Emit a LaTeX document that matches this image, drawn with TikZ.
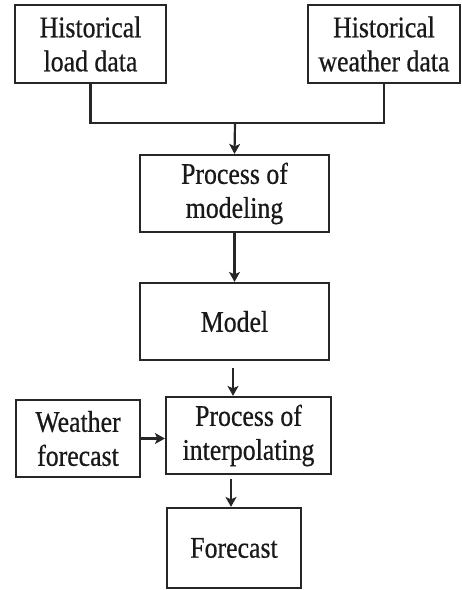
\documentclass[tikz,border=0pt]{standalone}
\usepackage{fontspec}
\setmainfont{Liberation Serif}[FakeStretch=0.86,FakeBold=0.6]
\usetikzlibrary{arrows.meta,calc}
\begin{document}
\begin{tikzpicture}[x=1pt,y=-1pt,
  blockbox/.style={draw=black!85, line width=2.2pt, rectangle, inner sep=0pt,
    align=center, font=\fontsize{30}{34}\selectfont, text=black!90},
  flow/.style={draw=black!85, line width=2.2pt, -{Stealth[length=10pt,width=11pt,inset=2.5pt]}},
  link/.style={draw=black!85, line width=2.2pt}]
\useasboundingbox (0,0) rectangle (462,590);

\node[blockbox, minimum width=151pt, minimum height=78pt] (hload) at (90.5,44) {Historical\\load data};
\node[blockbox, minimum width=152pt, minimum height=78pt] (hweather) at (384,44) {Historical\\weather data};
\node[blockbox, minimum width=189pt, minimum height=77pt] (modeling) at (234.5,193.5) {Process of\\modeling};
\node[blockbox, minimum width=189pt, minimum height=77pt] (model) at (234.5,321.5) {Model};
\node[blockbox, minimum width=165pt, minimum height=77pt] (interp) at (248.5,435.5) {Process of\\interpolating};
\node[blockbox, minimum width=124pt, minimum height=77pt] (wforecast) at (78,438.5) {Weather\\forecast};
\node[blockbox, minimum width=134pt, minimum height=80pt] (forecast) at (234,548) {Forecast};

% merge of the two historical data sources
\coordinate (merge) at (235,123);
\draw[link] (hload.south) |- (merge) -| (hweather.south);
\draw[flow] (merge) -- (modeling.north);

\draw[flow] (modeling.south) -- (model.north);

% the lower arrows start a little below their source boxes
\coordinate (modelout) at (233,368);
\coordinate (interpout) at (231,479);
\draw[flow] (modelout) -- (modelout |- interp.north);
\draw[flow] (wforecast.east) -- (wforecast.east -| interp.west);
\draw[flow] (interpout) -- (interpout |- forecast.north);
\end{tikzpicture}
\end{document}
